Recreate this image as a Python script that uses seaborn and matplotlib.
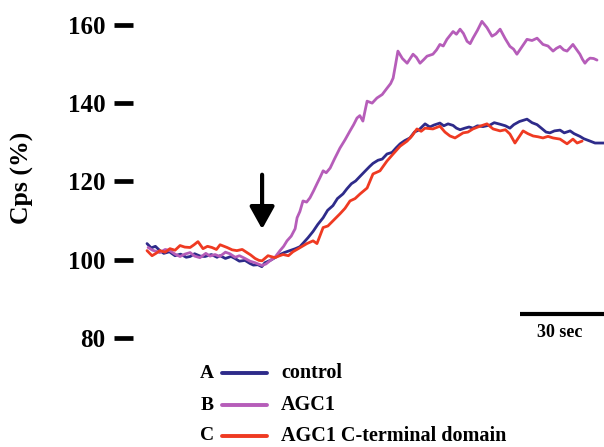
import pandas as pd
import seaborn as sns
import matplotlib.pyplot as plt
from matplotlib.lines import Line2D

# time (s) and Cps (%)
t_control = [0, 1.5, 3, 4.6, 6, 8, 10, 12, 14, 15.4, 17, 19, 20.7, 23, 25, 26.1, 28, 30, 31.4, 33,
             35, 36.8, 38, 39.6, 41, 42.1, 44, 45.7, 47.5, 49, 51, 53, 54.6, 56, 57.5, 59.3, 61, 62.9,
             64.5, 66.4, 68, 70, 71.4, 73, 74.5, 76.1, 78, 79.5, 80.7, 82.5, 84, 85.7, 87.5, 89, 90.4,
             92, 93.9, 95.5, 97, 99.3, 101, 102.5, 104.6, 106, 107.5, 109.3, 110.5, 111.8, 113.5, 115,
             116.4, 118, 120, 122.5, 124, 126.1, 128, 129.6, 131, 133, 135.7, 137.5, 139.3, 141, 142.5,
             143.9, 145.5, 147.5, 149, 151.1, 152.5, 154.6, 156, 158.2, 160, 163.2]
v_control = [104.1, 103.0, 103.4, 102.3, 101.6, 102.0, 101.0, 101.4, 100.6, 100.8, 101.5, 100.9, 100.8,
             101.3, 100.6, 101.0, 100.3, 100.8, 100.3, 99.6, 99.8, 99.0, 98.6, 98.7, 98.2, 99.2, 99.8,
             100.5, 101.3, 101.8, 102.3, 102.8, 103.3, 104.4, 105.6, 107.2, 109.0, 110.7, 112.6, 113.8,
             115.6, 116.8, 118.1, 119.4, 120.1, 121.3, 122.7, 123.8, 124.6, 125.4, 125.7, 127.0, 127.4,
             128.6, 129.6, 130.4, 131.1, 132.6, 133.1, 134.7, 133.9, 134.4, 134.9, 134.2, 134.7, 134.3,
             133.6, 133.2, 133.6, 133.9, 133.6, 134.2, 134.0, 134.4, 135.0, 134.6, 134.2, 133.6, 134.5,
             135.3, 135.9, 135.0, 134.5, 133.5, 132.6, 132.4, 132.9, 133.1, 132.4, 132.9, 132.2, 131.5,
             130.9, 130.3, 129.8, 129.8]

t_agc1 = [0.4, 2, 4.6, 6.5, 8.2, 10, 11.8, 13.5, 15.4, 17, 18.9, 21, 22.5, 24.3, 26, 28, 29.6, 31.5, 33,
          35, 36.8, 38.6, 40, 41.1, 42.5, 43.9, 45.7, 47.5, 48.8, 50, 51.5, 52.9, 53.6, 54.6, 55.7, 57,
          58.2, 59.5, 60.7, 61.8, 62.9, 64, 65.4, 67, 68.9, 70.7, 72.5, 73.8, 75, 76, 77.1, 78, 78.6,
          80.4, 82.1, 84, 85.7, 87, 87.9, 88.8, 89.6, 91.2, 92.9, 95, 96.2, 97.5, 98.8, 100, 102.1,
          103.4, 104.6, 105.8, 107.1, 109.3, 110.5, 111.8, 113, 114.3, 115.4, 116.4, 118, 119.6, 121.4,
          123.2, 124.6, 126.1, 127.9, 129.6, 130.9, 132.1, 133.9, 135.7, 137.5, 139.3, 141.4, 143.2,
          145, 146.2, 147.5, 148.8, 150, 151, 152.1, 153.4, 154.6, 155.5, 156.4, 157.3, 158.2, 159.5,
          160.7]
v_agc1 = [103.1, 102.4, 101.8, 102.6, 102.3, 101.4, 100.8, 101.4, 101.8, 100.9, 100.5, 101.6, 100.9,
          101.3, 100.8, 101.9, 101.5, 100.6, 101.0, 100.3, 99.6, 99.2, 98.8, 98.5, 98.9, 99.7, 100.6,
          102.3, 103.4, 104.8, 106.0, 107.9, 110.7, 112.3, 115.0, 114.7, 115.8, 117.6, 119.4, 121.0,
          122.7, 122.2, 123.4, 125.8, 128.5, 130.6, 132.9, 134.5, 136.2, 136.8, 135.4, 138.5, 140.5,
          140.0, 141.3, 142.2, 143.8, 145.0, 146.4, 150.0, 153.3, 151.4, 150.2, 152.5, 151.7, 150.2,
          151.1, 152.0, 152.5, 153.6, 155.0, 154.6, 156.3, 158.3, 157.6, 158.9, 157.8, 155.8, 155.2,
          156.6, 158.6, 160.9, 159.3, 157.1, 157.7, 158.9, 156.5, 154.5, 153.8, 152.5, 154.4, 156.3,
          156.0, 156.6, 155.0, 154.6, 153.3, 154.0, 154.5, 153.6, 153.3, 154.1, 155.0, 153.7, 152.5,
          151.2, 150.2, 151.0, 151.5, 151.4, 151.0]

t_cterm = [0, 1.8, 3.2, 4.6, 6.5, 8.2, 10, 11.8, 13.5, 15.4, 16.8, 18.2, 20, 21.6, 23.2, 24.8, 26.1,
           28.6, 30.4, 32.1, 34, 35.7, 37, 38.6, 40, 41.1, 43.2, 45.7, 47, 48.6, 50.5, 52.1, 54.5, 57.1,
           59.3, 60.7, 62.9, 64.6, 66.4, 68.9, 70.7, 72.5, 74.3, 76.1, 78.6, 80.7, 83.2, 85.7, 87.9,
           90.4, 92.9, 94.6, 96.4, 97.9, 99.3, 102.1, 104.6, 106.4, 108.2, 110, 112.9, 114.6, 116.4,
           118.9, 121.4, 123.6, 126.1, 128, 129.6, 131.4, 134.3, 136, 137.9, 139.6, 141.4, 143.2, 145,
           147.5, 150, 152.1, 153.6, 155.4]
v_cterm = [102.3, 101.0, 101.6, 102.3, 101.9, 102.8, 102.4, 103.6, 103.2, 103.1, 103.8, 104.6, 102.8,
           103.4, 103.1, 102.6, 103.8, 103.1, 102.5, 102.3, 102.6, 101.8, 101.2, 100.3, 99.8, 99.7,
           101.0, 100.5, 100.9, 101.3, 101.0, 102.0, 103.0, 104.1, 104.8, 104.1, 108.2, 108.6, 109.9,
           111.7, 113.1, 115.0, 115.6, 116.8, 118.3, 121.9, 122.7, 125.2, 127.0, 129.0, 130.3, 131.6,
           133.4, 132.8, 133.6, 133.4, 134.1, 132.6, 131.6, 131.1, 132.4, 132.6, 133.4, 134.1, 134.7,
           133.4, 132.9, 133.2, 132.1, 129.8, 132.9, 132.2, 131.6, 131.4, 131.1, 131.5, 131.1, 130.8,
           129.6, 130.8, 129.8, 130.3]

names = ['control', 'AGC1', 'AGC1 C-terminal domain']
letters = ['A', 'B', 'C']
colors = ['#2e2b8a', '#b65db9', '#ef3a22']

df = pd.concat([
    pd.DataFrame({'t': t_control, 'cps': v_control, 'trace': names[0]}),
    pd.DataFrame({'t': t_agc1, 'cps': v_agc1, 'trace': names[1]}),
    pd.DataFrame({'t': t_cterm, 'cps': v_cterm, 'trace': names[2]}),
])

sns.set_style('white')
plt.rcParams['font.family'] = ['Liberation Serif', 'DejaVu Serif']
plt.rcParams['font.weight'] = 'bold'
plt.rcParams['text.color'] = 'black'
plt.rcParams['ytick.color'] = 'black'
plt.rcParams['ytick.labelcolor'] = 'black'

fig = plt.figure(figsize=(6.04, 4.47), dpi=100)
ax = fig.add_axes([133 / 604, 97 / 447, 471 / 604, 340 / 447])

sns.lineplot(data=df, x='t', y='cps', hue='trace', palette=colors, hue_order=names,
             linewidth=2.0, legend=False, ax=ax, estimator=None, sort=False)

ax.set_xlim(-5, 163.2)
ax.set_ylim(76.9, 163.8)
for s in ax.spines.values():
    s.set_visible(False)
ax.set_xticks([])
ax.set_yticks([80, 100, 120, 140, 160])
ax.tick_params(axis='y', length=14, width=3.4, pad=6, labelsize=18, color='black',
               labelcolor='black', left=True)
for lab in ax.get_yticklabels():
    lab.set_fontweight('bold')
ax.set_xlabel('')
ax.set_ylabel('')
fig.text(22 / 604, 1 - 178 / 447, 'Cps (%)', rotation=90, ha='center', va='center',
         fontsize=18.5, fontweight='bold', color='black')

# stimulus arrow
ax.annotate('', xy=(41.1, 107.8), xytext=(41.1, 121.7),
            arrowprops=dict(arrowstyle='-|>,head_length=0.9,head_width=0.5',
                            lw=3, color='black', mutation_scale=15, shrinkA=0, shrinkB=0))

# 30 sec scale bar
ax.plot([133.2, 163.2], [86.1, 86.1], color='black', lw=3, clip_on=False, solid_capstyle='butt')
ax.text(147.5, 81.5, '30 sec', ha='center', va='center', fontsize=13, fontweight='bold',
        color='black')

# legend drawn by hand
rows = [373, 405, 436]
for y, let, name, c in zip(rows, letters, names, colors):
    fy = 1 - y / 447
    fig.text(207 / 604, fy, let, ha='center', va='center', fontsize=14, fontweight='bold',
             color='black')
    fig.add_artist(Line2D([222 / 604, 267 / 604], [fy, fy], color=c, lw=2.8))
    fig.text(281 / 604, fy, name, ha='left', va='center', fontsize=14.5, fontweight='bold',
             color='black')

fig.savefig('out.png', dpi=100)
